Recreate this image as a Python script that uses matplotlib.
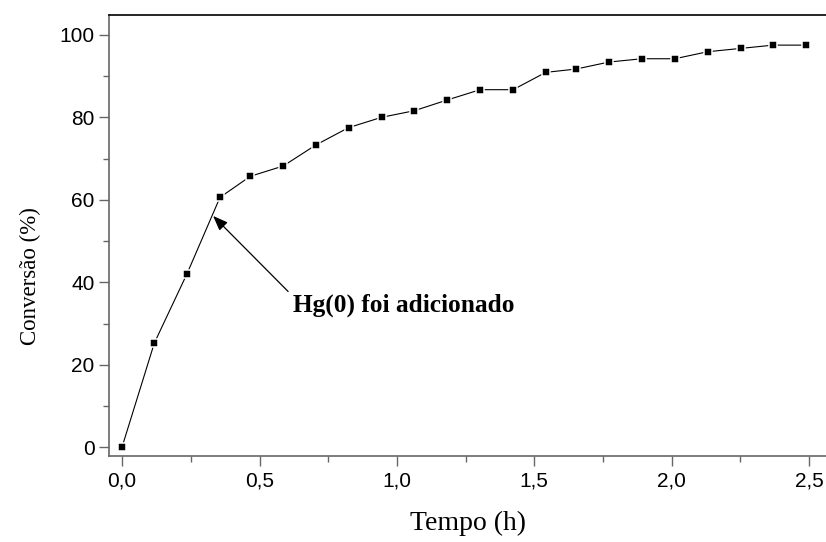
import matplotlib
matplotlib.use("Agg")
import matplotlib.pyplot as plt
from matplotlib.ticker import MultipleLocator, FuncFormatter

# Data
tempo_h = [0.0, 0.117, 0.236, 0.356, 0.466, 0.586, 0.705, 0.824, 0.944, 1.063, 1.183,
           1.303, 1.423, 1.542, 1.652, 1.772, 1.892, 2.012, 2.131, 2.251, 2.370, 2.490]
conversao = [0.2, 25.3, 42.1, 60.6, 65.7, 68.2, 73.3, 77.5, 80.0, 81.6, 84.2,
             86.7, 86.7, 90.9, 91.7, 93.4, 94.2, 94.2, 95.9, 96.7, 97.5, 97.5]
x_ticks = [0.0, 0.5, 1.0, 1.5, 2.0, 2.5]
y_ticks = [0, 20, 40, 60, 80, 100]
annot_text = "Hg(0) foi adicionado"
arrow_tip = (0.331, 56.1)
arrow_tail = (0.604, 37.8)
text_pos = (0.6215, 32.9)

W, H = 826, 542
fig = plt.figure(figsize=(W / 100, H / 100), dpi=100)
ax = fig.add_axes([109 / W, 86.3 / H, (W - 109) / W, 440.7 / H])

ax.plot(tempo_h, conversao, color="black", lw=0.8, marker="s", ms=5.4,
        mfc="black", mec="white", mew=1.1, clip_on=False, zorder=3)

ax.set_xlim(-0.048, 2.562)
ax.set_ylim(-2.0, 104.8)

ax.set_xticks(x_ticks)
ax.set_yticks(y_ticks)
ax.xaxis.set_minor_locator(MultipleLocator(0.25))
ax.yaxis.set_minor_locator(MultipleLocator(10))
ax.xaxis.set_major_formatter(FuncFormatter(lambda v, p: f"{v:.1f}".replace(".", ",")))
ax.yaxis.set_major_formatter(FuncFormatter(lambda v, p: f"{v:.0f}"))

gray = "#666666"
for side in ["left", "bottom"]:
    ax.spines[side].set_color(gray)
    ax.spines[side].set_linewidth(1.2)
ax.spines["top"].set_color("black")
ax.spines["top"].set_linewidth(1.2)
ax.spines["right"].set_visible(False)

ax.tick_params(which="major", direction="out", length=7, width=1.0, color=gray,
               labelsize=15, top=False, right=False)
ax.tick_params(axis="x", which="major", pad=4.5)
ax.tick_params(axis="y", which="major", pad=3.5)
ax.tick_params(which="minor", direction="out", length=4, width=1.0, color=gray,
               top=False, right=False)
for lab in ax.get_xticklabels() + ax.get_yticklabels():
    lab.set_fontfamily("Liberation Sans")

ax.set_xlabel("Tempo (h)", family="Liberation Serif", fontsize=20)
ax.set_ylabel("Conversão (%)", family="Liberation Serif", fontsize=16.5)
ax.xaxis.set_label_coords(0.5, -0.126)
ax.yaxis.set_label_coords(-0.095, 0.408)

ax.annotate("", xy=arrow_tip, xytext=arrow_tail,
            arrowprops=dict(arrowstyle="-|>,head_length=0.9,head_width=0.35",
                            color="black", lw=0.9, shrinkA=0, shrinkB=0))
ax.text(text_pos[0], text_pos[1], annot_text, family="Liberation Serif",
        fontweight="bold", fontsize=18.3, ha="left", va="baseline")

fig.savefig("out.png", dpi=100)
